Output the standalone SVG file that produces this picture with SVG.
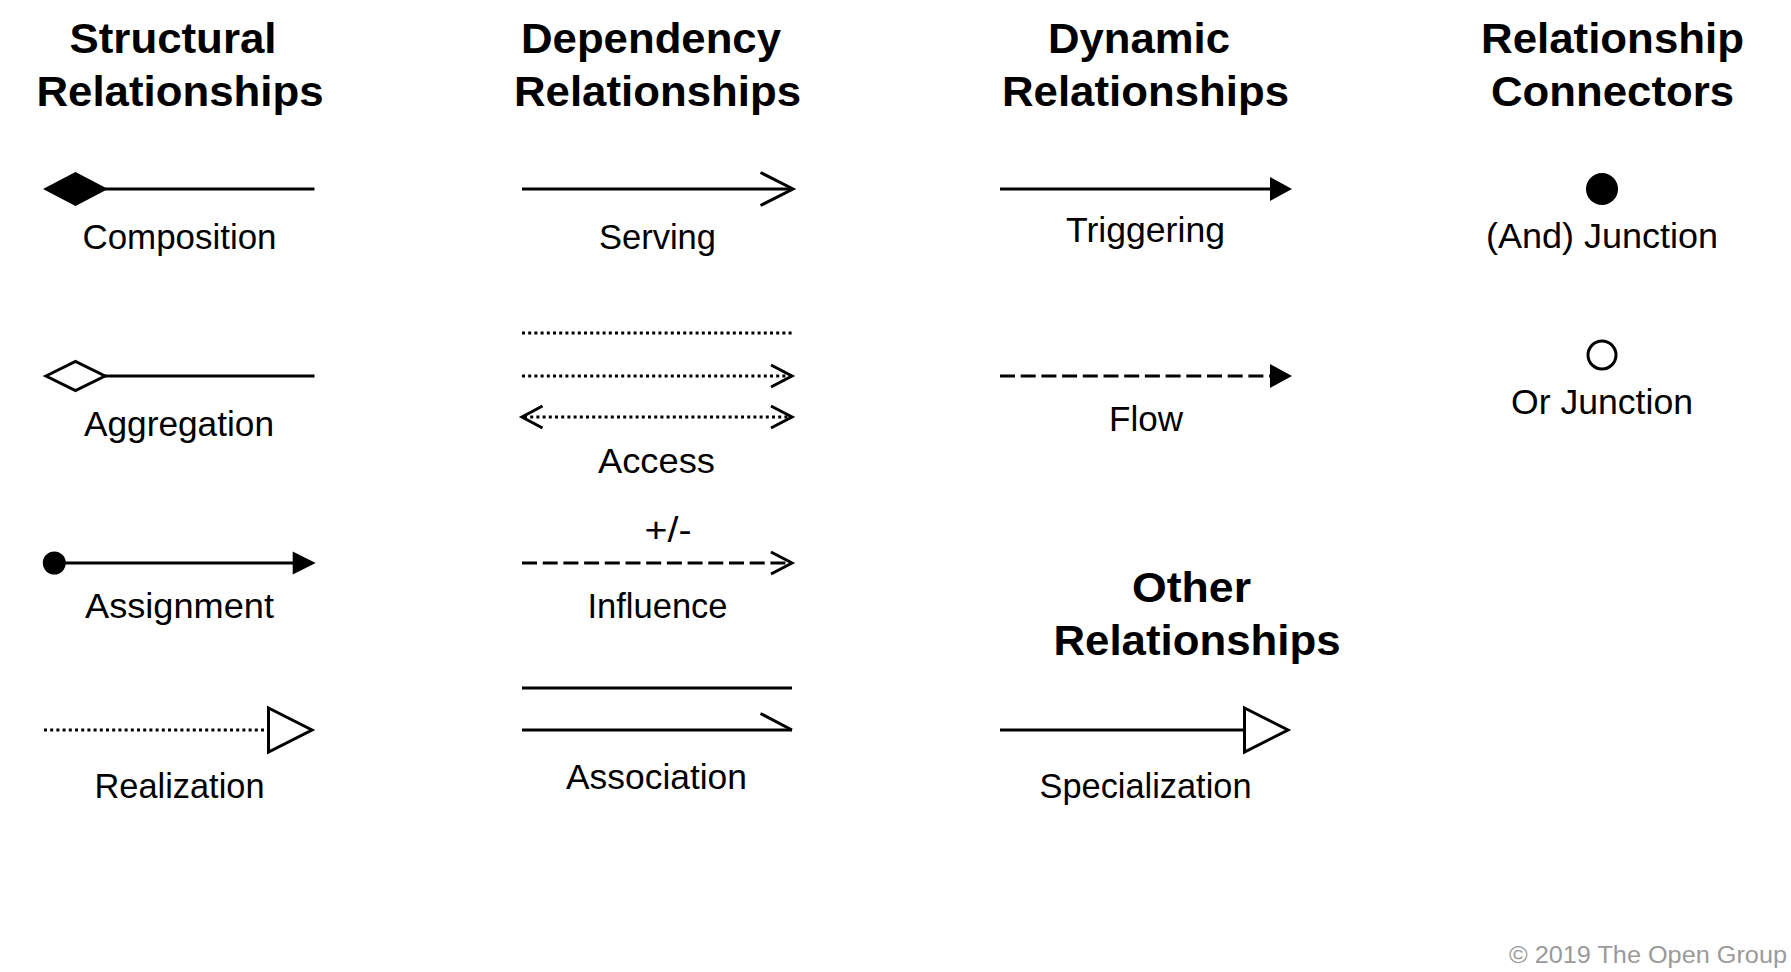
<svg xmlns="http://www.w3.org/2000/svg" width="1791" height="972" viewBox="0 0 1791 972">
  <style>
    .bg { fill: #ffffff; }
    .head { font-family: "Liberation Sans", Arial, sans-serif; font-weight: bold; font-size: 42px; fill: #000; text-anchor: middle; }
    .lbl { font-family: "Liberation Sans", Arial, sans-serif; font-size: 34.5px; fill: #000; text-anchor: middle; }
    .copy { font-family: "Liberation Sans", Arial, sans-serif; font-size: 23px; fill: #9a9a9a; }
    .ln { stroke: #000; stroke-width: 3; fill: none; }
    .dot { stroke: #000; stroke-width: 3; fill: none; stroke-dasharray: 3 3.2; }
    .dash { stroke: #000; stroke-width: 3; fill: none; stroke-dasharray: 15 5.7; }
    .open { stroke: #000; stroke-width: 3; fill: none; stroke-linejoin: miter; }
    .solid { fill: #000; stroke: none; }
    .hollow { fill: #fff; stroke: #000; stroke-width: 3; stroke-linejoin: miter; }
  </style>

  <rect class="bg" x="0" y="0" width="1791" height="972"/>

  <!-- Column headings -->
  <g id="headings">
    <text class="head" x="173" y="53" textLength="207" lengthAdjust="spacingAndGlyphs">Structural</text>
    <text class="head" x="180" y="106" textLength="287" lengthAdjust="spacingAndGlyphs">Relationships</text>
    <text class="head" x="651" y="53" textLength="260" lengthAdjust="spacingAndGlyphs">Dependency</text>
    <text class="head" x="657.5" y="106" textLength="287" lengthAdjust="spacingAndGlyphs">Relationships</text>
    <text class="head" x="1139" y="53" textLength="182" lengthAdjust="spacingAndGlyphs">Dynamic</text>
    <text class="head" x="1145.5" y="106" textLength="287" lengthAdjust="spacingAndGlyphs">Relationships</text>
    <text class="head" x="1612.5" y="53" textLength="263" lengthAdjust="spacingAndGlyphs">Relationship</text>
    <text class="head" x="1612.5" y="106" textLength="243" lengthAdjust="spacingAndGlyphs">Connectors</text>
    <text class="head" x="1191.5" y="602" textLength="119" lengthAdjust="spacingAndGlyphs">Other</text>
    <text class="head" x="1197" y="655" textLength="287" lengthAdjust="spacingAndGlyphs">Relationships</text>
  </g>

  <!-- Relationship notations -->
  <g id="connectors">
    <!-- Composition -->
    <g id="composition">
      <line class="ln" x1="105" y1="189" x2="314.5" y2="189"/>
      <polygon class="solid" points="43,189 75.5,172 108,189 75.5,206"/>
    </g>
    <!-- Aggregation -->
    <g id="aggregation">
      <line class="ln" x1="104" y1="376" x2="314.5" y2="376"/>
      <polygon class="hollow" points="46,376 75.5,361.5 105,376 75.5,390.5"/>
    </g>
    <!-- Assignment -->
    <g id="assignment">
      <line class="ln" x1="54" y1="563" x2="295" y2="563"/>
      <circle class="solid" cx="54.3" cy="563" r="11.5"/>
      <polygon class="solid" points="292.7,551.5 315.7,563 292.7,574.5"/>
    </g>
    <!-- Realization -->
    <g id="realization">
      <line class="dot" x1="44" y1="730" x2="266" y2="730"/>
      <polygon class="hollow" points="268.5,708 312,730 268.5,752"/>
    </g>

    <!-- Serving -->
    <g id="serving">
      <line class="ln" x1="522" y1="189" x2="792" y2="189"/>
      <polyline class="open" points="760.5,172.5 793,189 760.5,205.5"/>
    </g>
    <!-- Access -->
    <g id="access">
      <line class="dot" x1="522" y1="333" x2="792" y2="333"/>
      <line class="dot" x1="522" y1="376" x2="790" y2="376"/>
      <polyline class="open" points="771,365 792,376 771,387"/>
      <line class="dot" x1="524" y1="417" x2="790" y2="417"/>
      <polyline class="open" points="542.5,406 522,417 542.5,428"/>
      <polyline class="open" points="771,406 792,417 771,428"/>
    </g>
    <!-- Influence -->
    <g id="influence">
      <line class="dash" x1="522" y1="563" x2="790" y2="563"/>
      <polyline class="open" points="771,552 792,563 771,574"/>
    </g>
    <!-- Association -->
    <g id="association">
      <line class="ln" x1="522" y1="688" x2="792" y2="688"/>
      <line class="ln" x1="522" y1="730" x2="792" y2="730"/>
      <line class="ln" x1="760.5" y1="713.5" x2="792" y2="730"/>
    </g>

    <!-- Triggering -->
    <g id="triggering">
      <line class="ln" x1="1000" y1="189" x2="1272" y2="189"/>
      <polygon class="solid" points="1270,177 1292,189 1270,201"/>
    </g>
    <!-- Flow -->
    <g id="flow">
      <line class="dash" x1="1000" y1="376" x2="1270" y2="376"/>
      <polygon class="solid" points="1270,364 1292,376 1270,388"/>
    </g>
    <!-- Specialization -->
    <g id="specialization">
      <line class="ln" x1="1000" y1="730" x2="1244" y2="730"/>
      <polygon class="hollow" points="1244.5,708 1288,730 1244.5,752"/>
    </g>

    <!-- Junctions -->
    <g id="and-junction">
      <circle class="solid" cx="1602" cy="189" r="16"/>
    </g>
    <g id="or-junction">
      <circle class="hollow" cx="1602" cy="355" r="14"/>
    </g>
  </g>

  <!-- Labels -->
  <g id="labels">
    <text class="lbl" x="179.5" y="249" textLength="194" lengthAdjust="spacingAndGlyphs">Composition</text>
    <text class="lbl" x="179" y="436" textLength="190" lengthAdjust="spacingAndGlyphs">Aggregation</text>
    <text class="lbl" x="179.5" y="618" textLength="189" lengthAdjust="spacingAndGlyphs">Assignment</text>
    <text class="lbl" x="179.5" y="798" textLength="170" lengthAdjust="spacingAndGlyphs">Realization</text>
    <text class="lbl" x="657.5" y="249" textLength="117" lengthAdjust="spacingAndGlyphs">Serving</text>
    <text class="lbl" x="656.5" y="473" textLength="117" lengthAdjust="spacingAndGlyphs">Access</text>
    <text class="lbl" x="668" y="542" textLength="47" lengthAdjust="spacingAndGlyphs">+/-</text>
    <text class="lbl" x="657.5" y="618" textLength="140" lengthAdjust="spacingAndGlyphs">Influence</text>
    <text class="lbl" x="656.5" y="789" textLength="181" lengthAdjust="spacingAndGlyphs">Association</text>
    <text class="lbl" x="1145.5" y="242" textLength="159" lengthAdjust="spacingAndGlyphs">Triggering</text>
    <text class="lbl" x="1146" y="431" textLength="74" lengthAdjust="spacingAndGlyphs">Flow</text>
    <text class="lbl" x="1145.5" y="798" textLength="212" lengthAdjust="spacingAndGlyphs">Specialization</text>
    <text class="lbl" x="1602" y="248" textLength="232" lengthAdjust="spacingAndGlyphs">(And) Junction</text>
    <text class="lbl" x="1602" y="414" textLength="182" lengthAdjust="spacingAndGlyphs">Or Junction</text>
  </g>

  <text class="copy" x="1509" y="963" textLength="278" lengthAdjust="spacingAndGlyphs">© 2019 The Open Group</text>
</svg>
